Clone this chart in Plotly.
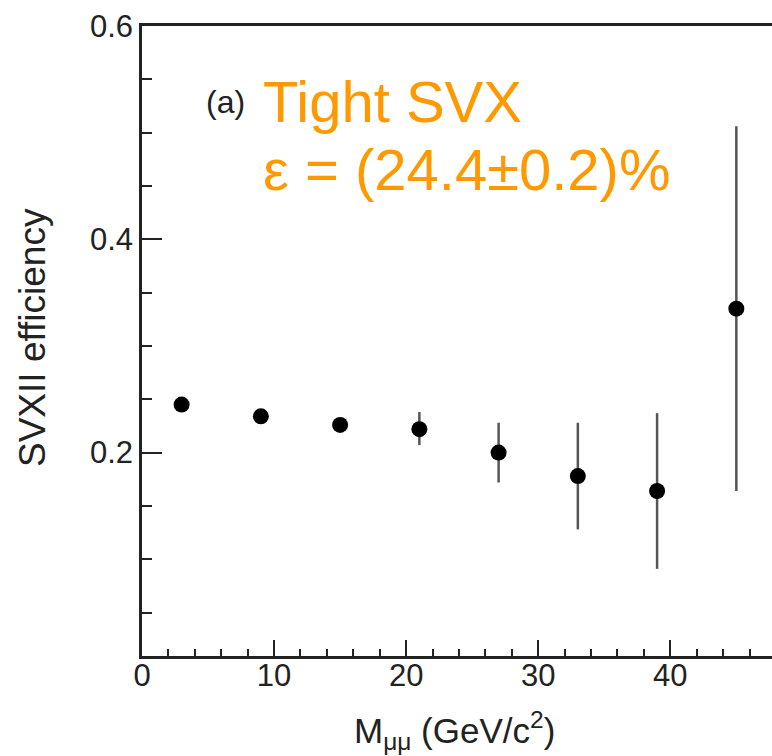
import plotly.graph_objects as go

# Data
mass = [3, 9, 15, 21, 27, 33, 39, 45]
efficiency = [0.245, 0.234, 0.226, 0.222, 0.200, 0.178, 0.164, 0.335]
err_up = [0.004, 0.004, 0.005, 0.016, 0.028, 0.050, 0.073, 0.171]
err_down = [0.004, 0.004, 0.005, 0.015, 0.028, 0.050, 0.073, 0.171]

x_tickvals = [0, 10, 20, 30, 40]
y_tickvals = [0.2, 0.4, 0.6]

W, H = 772, 756
L, R, T, B = 142, 0, 26, 100
pw, ph = W - L - R, H - T - B

def px(xp):
    return (xp - L) / pw

def py(yp):
    return (H - B - yp) / ph

fig = go.Figure()
fig.add_trace(go.Scatter(
    x=mass, y=efficiency, mode="markers",
    marker=dict(symbol="circle", size=16, color="black"),
    error_y=dict(type="data", symmetric=False, array=err_up, arrayminus=err_down,
                 width=0, thickness=2.5, color="#555555"),
    showlegend=False,
))

tick_font = dict(family="Liberation Sans, Arial, sans-serif", size=31, color="#222222")

fig.update_layout(
    width=W, height=H,
    margin=dict(l=L, r=R, t=T, b=B, pad=0),
    paper_bgcolor="white", plot_bgcolor="white",
    xaxis=dict(
        range=[0, 47.7], showgrid=False, zeroline=False,
        showline=True, linecolor="#222222", linewidth=2.5, mirror=True,
        ticks="inside", ticklen=16, tickwidth=2, tickcolor="#222222",
        tickvals=x_tickvals, tickfont=tick_font, ticklabelstandoff=-10,
        minor=dict(ticks="inside", dtick=2, tick0=0, ticklen=7, tickwidth=2,
                   tickcolor="#222222", showgrid=False),
    ),
    yaxis=dict(
        range=[0.0093, 0.6], showgrid=False, zeroline=False,
        showline=True, linecolor="#222222", linewidth=2.5, mirror=False,
        ticks="inside", ticklen=20, tickwidth=2, tickcolor="#222222",
        tickvals=y_tickvals, tickformat=".1f", tickfont=tick_font,
        minor=dict(ticks="inside", dtick=0.05, tick0=0, ticklen=10, tickwidth=2,
                   tickcolor="#222222", showgrid=False),
    ),
)

annots = [
    dict(text="SVXII efficiency", x=px(32), y=py(338), textangle=-90,
         xanchor="center", yanchor="middle",
         font=dict(family="Liberation Sans, Arial, sans-serif", size=37, color="#222222")),
    dict(text="M<sub>μμ</sub> (GeV/c<sup>2</sup>)", x=px(454), y=py(730),
         xanchor="center", yanchor="middle",
         font=dict(family="Liberation Sans, Arial, sans-serif", size=35, color="#222222")),
    dict(text="(a)", x=px(205), y=py(102), xanchor="left", yanchor="middle",
         font=dict(family="Liberation Sans, Arial, sans-serif", size=32, color="#222222")),
    dict(text="Tight SVX", x=px(262), y=py(101), xanchor="left", yanchor="middle",
         font=dict(family="Liberation Sans, Arial, sans-serif", size=58, color="#FF9900")),
    dict(text="ε = (24.4±0.2)%", x=px(262), y=py(170), xanchor="left", yanchor="middle",
         font=dict(family="Liberation Sans, Arial, sans-serif", size=58, color="#FF9900")),
]
for a in annots:
    fig.add_annotation(xref="paper", yref="paper", showarrow=False, borderpad=0, **a)

fig.write_html("out.html")
